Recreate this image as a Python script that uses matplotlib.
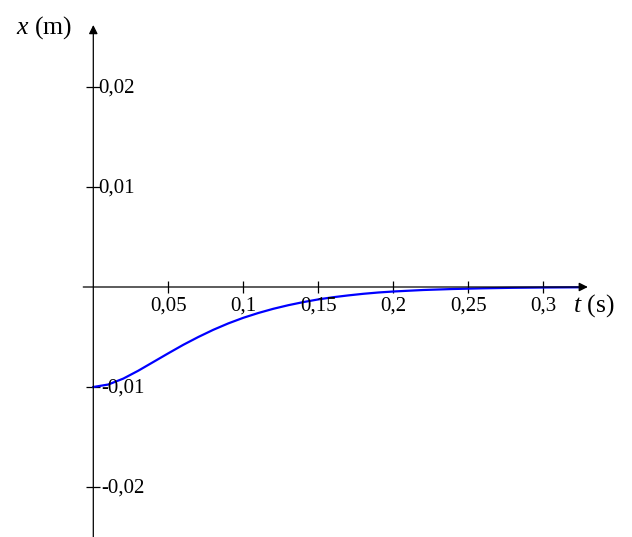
import matplotlib.pyplot as plt

plt.rcParams['font.family'] = 'Liberation Serif'
plt.rcParams['mathtext.fontset'] = 'custom'
plt.rcParams['mathtext.rm'] = 'Liberation Serif'
plt.rcParams['mathtext.it'] = 'Liberation Serif:italic'

# values
t = [0.0, 0.01, 0.02, 0.03, 0.04, 0.05, 0.06, 0.07, 0.08, 0.09, 0.10,
     0.11, 0.12, 0.13, 0.14, 0.15, 0.16, 0.17, 0.18, 0.19, 0.20,
     0.22, 0.24, 0.26, 0.28, 0.30, 0.323]
x = [-0.01000, -0.00975, -0.00916, -0.00837, -0.00750, -0.00663, -0.00578,
     -0.00500, -0.00428, -0.00364, -0.00308, -0.00260, -0.00218, -0.00182,
     -0.00151, -0.00124, -0.00102, -0.00084, -0.00068, -0.00055, -0.00045,
     -0.00030, -0.00020, -0.00013, -0.00008, -0.00005, -0.00003]

xticks = [0.05, 0.1, 0.15, 0.2, 0.25, 0.3]
xtick_labels = ['0,05', '0,1', '0,15', '0,2', '0,25', '0,3']
yticks = [0.02, 0.01, -0.01, -0.02]
ytick_labels = ['0,02', '0,01', '-0,01', '-0,02']

fig = plt.figure(figsize=(6.32, 5.37), dpi=100)
ax = fig.add_axes([0, 0, 1, 1])
ax.set_xlim(-93.3 / 1500, (632 - 93.3) / 1500)
ax.set_ylim(-(537 - 287) / 10000, 287 / 10000)
ax.axis('off')

# axes with arrows
ax.annotate('', xy=(0.3297, 0), xytext=(-0.0067, 0),
            arrowprops=dict(arrowstyle='-|>', color='k', lw=0.9,
                            mutation_scale=13, shrinkA=0, shrinkB=0))
ax.annotate('', xy=(0, 0.0262), xytext=(0, -0.0252),
            arrowprops=dict(arrowstyle='-|>', color='k', lw=0.9,
                            mutation_scale=13, shrinkA=0, shrinkB=0))

# ticks
ax.plot(xticks, [0] * len(xticks), ls='none', marker='|', ms=9, mew=0.9, color='k')
ax.plot([0] * len(yticks), yticks, ls='none', marker='_', ms=10, mew=0.9, color='k')

for tk, lb in zip(xticks, xtick_labels):
    ax.text(tk, -0.0019, lb, ha='center', va='center', fontsize=15)
for tk, lb in zip(yticks, ytick_labels):
    xpos = 0.0055 if lb.startswith('-') else 0.0033
    ax.text(xpos, tk - 0.0001, lb, ha='left', va='center', fontsize=15)

ax.plot(t, x, color='#0000ff', lw=1.6)

ax.text(0.3195, -0.0019, r'$t$ (s)', ha='left', va='center', fontsize=18.5)
ax.text(-0.0517, 0.0259, r'$x$ (m)', ha='left', va='center', fontsize=18.5)

fig.savefig('out.png', dpi=100)
